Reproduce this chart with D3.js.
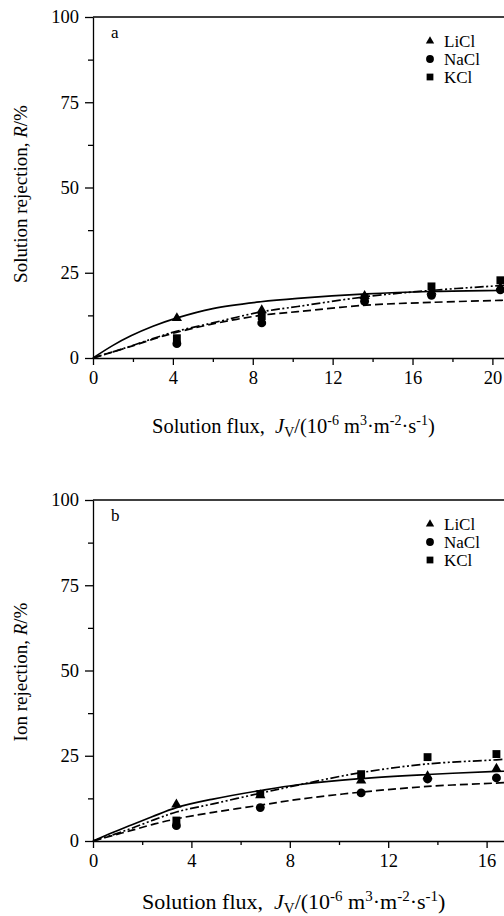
<!DOCTYPE html>
<html><head><meta charset="utf-8">
<script src="https://cdn.jsdelivr.net/npm/d3@7"></script>
<style>
html,body{margin:0;padding:0;background:#fff;overflow:hidden;}
svg{display:block;}
text{font-family:"Liberation Serif","Times New Roman",serif;fill:#000;}
</style></head>
<body>
<svg id="chart" width="504" height="916"></svg>
<script>
// ---------- data ----------
const seriesNames = ["LiCl", "NaCl", "KCl"];
const yTicks = [0, 25, 50, 75, 100];

// panel a : solution rejection
const fluxA   = [4.2, 8.45, 13.6, 16.95, 20.4];
const liclA   = [11.7, 14.0, 18.2, 19.5, 20.6];
const naclA   = [4.2, 10.3, 16.6, 18.4, 20.0];
const kclA    = [5.8, 12.3, 17.6, 21.0, 22.8];
// fitted curves
const fitXA     = [0, 1.0, 1.9, 3.0, 4.17, 6.0, 8.4, 10.25, 13.7, 16.9, 20.35, 21.0];
const fitLiclA  = [0, 3.7, 6.5, 9.3, 11.7, 14.5, 16.5, 17.5, 18.8, 19.5, 19.8, 19.85];
const fitNaclA  = [0, 1.8, 3.4, 5.5, 7.5, 10.0, 12.5, 13.6, 15.5, 16.3, 16.9, 17.0];
const fitKclA   = [0, 1.8, 3.5, 5.7, 7.8, 10.3, 13.5, 15.1, 18.0, 19.8, 21.2, 21.4];
const xTicksA   = [0, 4, 8, 12, 16, 20, 24];

// panel b : ion rejection
const fluxB   = [3.39, 6.8, 10.9, 13.6, 16.4];
const liclB   = [10.7, 13.4, 17.7, 19.0, 21.2];
const naclB   = [4.5, 9.8, 14.1, 18.2, 18.5];
const kclB    = [6.0, 13.8, 19.6, 24.6, 25.5];
const fitXB     = [0, 0.8, 1.56, 2.4, 3.39, 4.88, 6.8, 8.33, 10.85, 13.6, 16.4, 17.0];
const fitLiclB  = [0, 2.5, 4.7, 7.1, 9.8, 12.3, 14.8, 16.5, 18.3, 19.5, 20.4, 20.5];
const fitNaclB  = [0, 1.6, 3.1, 4.8, 6.5, 8.4, 10.5, 12.2, 14.3, 16.0, 17.0, 17.2];
const fitKclB   = [0, 1.8, 3.7, 6.0, 8.5, 10.9, 14.0, 16.4, 20.0, 22.6, 23.8, 24.1];
const xTicksB   = [0, 4, 8, 12, 16, 20];

// ---------- drawing ----------
const svg = d3.select("#chart");
const symbolTypes = [d3.symbolTriangle, d3.symbolCircle, d3.symbolSquare];
const symbolSizes = [46, 62, 62];
const legendSizes = [30, 48, 46];
const dashes = [null, "8,4", "9,2.5,2,2.5,2,2.5"];
const FONT = '"Liberation Serif","Times New Roman",serif';

function drawPanel(cfg) {
  const g = svg.append("g");
  const x = d3.scaleLinear().domain([0, cfg.xMax]).range([93, 93 + cfg.xMax * cfg.pxPerUnit]);
  const y = d3.scaleLinear().domain([0, 100]).range([cfg.y0, cfg.y100]);

  // frame (top + right)
  g.append("line").attr("x1", 93).attr("x2", x(cfg.xMax)).attr("y1", y(100)).attr("y2", y(100))
    .attr("stroke", "#000").attr("stroke-width", 1.3);
  g.append("line").attr("x1", x(cfg.xMax)).attr("x2", x(cfg.xMax)).attr("y1", y(100)).attr("y2", y(0))
    .attr("stroke", "#000").attr("stroke-width", 1.3);

  // y axis
  const yAxis = d3.axisLeft(y).tickValues(yTicks).tickSize(8).tickPadding(6).tickSizeOuter(0);
  const ya = g.append("g").attr("transform", "translate(93,0)").call(yAxis);
  const yMinor = d3.axisLeft(y).tickValues(d3.range(12.5, 100, 25)).tickSize(5).tickFormat("").tickSizeOuter(0);
  const ym = g.append("g").attr("transform", "translate(93,0)").call(yMinor);
  ym.select(".domain").remove();

  // x axis
  const xAxis = d3.axisBottom(x).tickValues(cfg.xTicks).tickSize(7).tickPadding(6).tickSizeOuter(0);
  const xa = g.append("g").attr("transform", `translate(0,${y(0)})`).call(xAxis);
  const xMinor = d3.axisBottom(x).tickValues(d3.range(2, cfg.xMax, 4)).tickSize(4).tickFormat("").tickSizeOuter(0);
  const xm = g.append("g").attr("transform", `translate(0,${y(0)})`).call(xMinor);
  xm.select(".domain").remove();

  [ya, ym, xa, xm].forEach(a => {
    a.selectAll("path,line").attr("stroke", "#000").attr("stroke-width", 1.3);
    a.selectAll("text").style("font-family", FONT).style("font-size", "18.5px").attr("fill", "#000");
  });

  // curves
  const line = d3.line().x(d => x(d[0])).y(d => y(d[1])).curve(d3.curveCatmullRom.alpha(0.5));
  cfg.fits.forEach((fy, i) => {
    const pts = cfg.fitX.map((v, k) => [v, fy[k]]);
    g.append("path").datum(pts).attr("d", line).attr("fill", "none").attr("stroke", "#000")
      .attr("stroke-width", 1.7).attr("stroke-dasharray", dashes[i]);
  });

  // points
  cfg.values.forEach((vals, i) => {
    g.selectAll(null).data(cfg.flux.map((f, k) => [f, vals[k]])).enter().append("path")
      .attr("transform", d => `translate(${x(d[0])},${y(d[1])})`)
      .attr("d", d3.symbol().type(symbolTypes[i]).size(symbolSizes[i]))
      .attr("fill", "#000");
  });

  // panel letter
  g.append("text").attr("x", 111).attr("y", cfg.y100 + 21).style("font-size", "17px").text(cfg.letter);

  // legend
  seriesNames.forEach((n, i) => {
    const ly = cfg.y100 + 24 + i * 18;
    g.append("path").attr("transform", `translate(430,${ly})`)
      .attr("d", d3.symbol().type(symbolTypes[i]).size(legendSizes[i])).attr("fill", "#000");
    g.append("text").attr("x", 444).attr("y", ly + 5.5).style("font-size", "17px").text(n);
  });

  // y title
  const yt = g.append("text").attr("transform", `translate(27,${cfg.yTitleY}) rotate(-90)`)
    .attr("text-anchor", "middle").style("font-size", "19px");
  yt.append("tspan").text(cfg.yTitle);
  yt.append("tspan").style("font-style", "italic").text("R");
  yt.append("tspan").text("/%");

  // x title
  const fs = cfg.xTitleSize, ss = Math.round(fs * 0.66);
  const xt = g.append("text").attr("x", cfg.xTitleX).attr("y", cfg.xTitleY).style("font-size", fs + "px")
    .attr("xml:space", "preserve");
  xt.append("tspan").text("Solution flux,\u00a0\u00a0");
  xt.append("tspan").style("font-style", "italic").text("J");
  xt.append("tspan").attr("dy", 4).style("font-size", ss + "px").text("V");
  xt.append("tspan").attr("dy", -4).text("/(10");
  xt.append("tspan").attr("dy", -8).style("font-size", ss + "px").text("-6");
  xt.append("tspan").attr("dy", 8).text(" m");
  xt.append("tspan").attr("dy", -8).style("font-size", ss + "px").text("3");
  xt.append("tspan").attr("dy", 8).text("·m");
  xt.append("tspan").attr("dy", -8).style("font-size", ss + "px").text("-2");
  xt.append("tspan").attr("dy", 8).text("·s");
  xt.append("tspan").attr("dy", -8).style("font-size", ss + "px").text("-1");
  xt.append("tspan").attr("dy", 8).text(")");
}

drawPanel({
  letter: "a", y0: 358, y100: 17, xMax: 24, pxPerUnit: 19.97, xTicks: xTicksA,
  flux: fluxA, values: [liclA, naclA, kclA],
  fitX: fitXA, fits: [fitLiclA, fitNaclA, fitKclA],
  yTitle: "Solution rejection, ", yTitleY: 194, xTitleX: 152, xTitleY: 433, xTitleSize: 20.5
});
drawPanel({
  letter: "b", y0: 841, y100: 500, xMax: 20, pxPerUnit: 24.6, xTicks: xTicksB,
  flux: fluxB, values: [liclB, naclB, kclB],
  fitX: fitXB, fits: [fitLiclB, fitNaclB, fitKclB],
  yTitle: "Ion rejection, ", yTitleY: 672, xTitleX: 142, xTitleY: 909, xTitleSize: 22
});
</script>
</body></html>
